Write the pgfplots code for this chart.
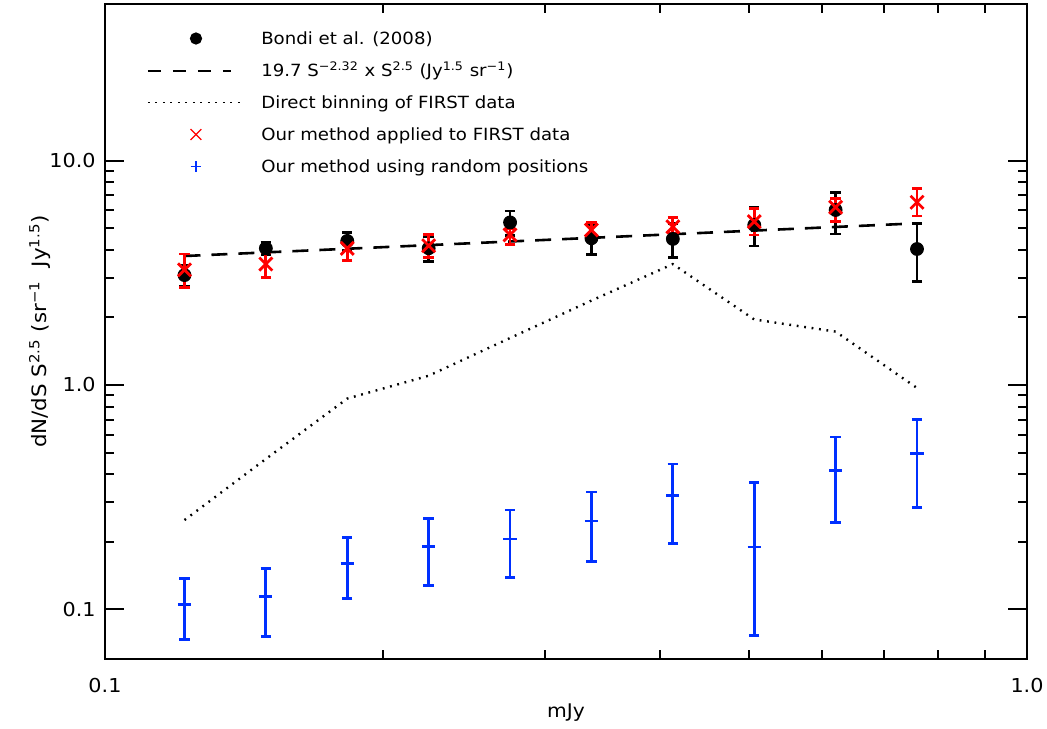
\documentclass[border=0pt]{standalone}
\usepackage{fontspec}
\setmainfont{DejaVu Sans}[FakeStretch=1.08]
\usepackage{pgfplots}
\usepackage{pgfplotstable}
\pgfplotsset{compat=1.18}
\definecolor{oblue}{RGB}{0,48,255}
\definecolor{ored}{RGB}{255,0,0}

\pgfplotstableread{
x y ep em
0.12197 3.09 0.34 0.33
0.14946 4.07 0.27 0.27
0.18315 4.39 0.41 0.40
0.22443 4.07 0.52 0.52
0.27502 5.31 0.66 0.66
0.33701 4.51 0.68 0.68
0.41297 4.48 0.79 0.79
0.50605 5.17 1.00 1.00
0.62011 6.03 1.17 1.32
0.75989 4.04 1.22 1.15
}\bondi

\pgfplotstableread{
x y ep em
0.12197 3.26 0.58 0.53
0.14946 3.46 0.43 0.44
0.18315 4.07 0.24 0.49
0.22443 4.18 0.52 0.47
0.27502 4.67 0.32 0.43
0.33701 4.91 0.40 0.40
0.41297 5.08 0.49 0.33
0.50605 5.35 0.78 0.68
0.62011 6.20 0.60 0.85
0.75989 6.53 1.00 0.86
}\ourfirst

\pgfplotstableread{
x y ep em
0.12197 0.1053 0.0322 0.0318
0.14946 0.1143 0.0381 0.0385
0.18315 0.1603 0.0491 0.0488
0.22443 0.1910 0.0624 0.0631
0.27502 0.2058 0.0714 0.0669
0.33701 0.2475 0.0859 0.0838
0.41297 0.3209 0.1235 0.1240
0.50605 0.1896 0.1787 0.1133
0.62011 0.4166 0.1697 0.1723
0.75989 0.4960 0.2070 0.2110
}\random

\pgfplotstableread{
x y
0.12197 0.250
0.14946 0.468
0.18315 0.870
0.22443 1.100
0.27502 1.620
0.33701 2.380
0.41297 3.460
0.50605 1.960
0.62011 1.730
0.75989 0.970
}\direct

\begin{document}
\begin{tikzpicture}
\begin{axis}[
  name=ax,
  scale only axis,
  width=461bp, height=327.5bp,
  xmode=log, ymode=log,
  xmin=0.1, xmax=1.0, ymin=0.06, ymax=50,
  xtick={0.1,1}, xticklabels={{0.1},{1.0}},
  ytick={0.1,1,10}, yticklabels={{0.1},{1.0},{10.0}},
  /pgf/number format/assume math mode=true,
  tick align=inside,
  major tick length=9.5bp,
  minor tick length=4.5bp,
  axis line style={line width=1bp},
  every tick/.style={black, line width=1bp},
  tick label style={font=\fontsize{9.6bp}{11bp}\selectfont},
  yticklabel style={inner sep=0pt, xshift=-4.5bp},
  xticklabel style={inner sep=0pt, yshift=-9.5bp},
  label style={font=\fontsize{9.4bp}{11bp}\selectfont},
  xlabel={mJy},
  xlabel style={at={(axis description cs:0.5,-0.0824)}, anchor=center},
  ylabel={dN/dS S\textsuperscript{2.5} (sr\textsuperscript{−1}\ \ Jy\textsuperscript{1.5})},
  ylabel style={at={(axis description cs:-0.0705,0.5)}, anchor=center,
    font=\fontsize{9.9bp}{11bp}\selectfont},
  legend cell align=left,
  legend style={draw=none, fill=none, inner sep=0pt, outer sep=0pt,
    at={(axis description cs:0,1)}, anchor=north west,
    xshift=21bp, yshift=-9.25bp, row sep=0pt, column sep=8.2bp,
    nodes={inner sep=0pt, text height=11bp, text depth=5bp,
      font=\fontsize{8.4bp}{10bp}\selectfont}},
]
% Bondi et al. (2008)
\addplot[only marks, mark=*, mark size=3.2bp, black, line width=0.5bp,
  mark options={fill=black},
  error bars/.cd, y dir=both, y explicit, error mark=|,
  error bar style={line width=1.4bp, black},
  error mark options={black, mark size=2.6bp, line width=1.4bp},
  /pgfplots/legend image code/.code={\path[draw=none, fill=none] (0bp,-4bp) rectangle (48bp,4bp);
    \draw[only marks, mark=*, mark size=2.8bp, black, fill=black] plot coordinates {(24bp,0bp)};}
] table[x=x, y=y, y error plus=ep, y error minus=em] {\bondi};
\addlegendentry{Bondi et al. (2008)}

% power law
\addplot[black, line width=1.3bp, dash pattern=on 8bp off 5.5bp,
  legend image code/.code={\path[draw=none, fill=none] (0bp,-4bp) rectangle (48bp,4bp);
    \draw[black, solid, line width=1bp, dash pattern=on 6.5bp off 6bp] (0bp,0bp) -- (41.5bp,0bp);}
] coordinates {(0.12197,3.76) (0.75989,5.26)};
\addlegendentry{19.7 S\textsuperscript{−2.32} x S\textsuperscript{2.5} (Jy\textsuperscript{1.5} sr\textsuperscript{−1})}

% direct binning
\addplot[black, line width=1.2bp, dash pattern=on 0.9bp off 2.85bp,
  legend image code/.code={\path[draw=none, fill=none] (0bp,-4bp) rectangle (48bp,4bp);
    \draw[black, line width=0.9bp, dash pattern=on 0.8bp off 2.95bp] (0bp,0bp) -- (48bp,0bp);}
] table[x=x, y=y] {\direct};
\addlegendentry{Direct binning of FIRST data}

% our method FIRST
\addplot[only marks, mark=x, mark size=4.6bp, ored, line width=1.4bp,
  error bars/.cd, y dir=both, y explicit, error mark=|,
  error bar style={line width=1.4bp, ored},
  error mark options={ored, mark size=2.6bp, line width=1.4bp},
  /pgfplots/legend image code/.code={\path[draw=none, fill=none] (0bp,-4bp) rectangle (48bp,4bp);
    \draw[only marks, mark=x, mark size=3.8bp, ored, line width=0.6bp] plot coordinates {(24bp,0bp)};}
] table[x=x, y=y, y error plus=ep, y error minus=em] {\ourfirst};
\addlegendentry{Our method applied to FIRST data}

% random positions
\addplot[only marks, mark=+, mark size=3.3bp, oblue, line width=1.4bp,
  error bars/.cd, y dir=both, y explicit, error mark=|,
  error bar style={line width=1.4bp, oblue},
  error mark options={oblue, mark size=2.6bp, line width=1.4bp},
  /pgfplots/legend image code/.code={\path[draw=none, fill=none] (0bp,-4bp) rectangle (48bp,4bp);
    \draw[only marks, mark=+, mark size=2.7bp, oblue, line width=0.6bp] plot coordinates {(24bp,0bp)};}
] table[x=x, y=y, y error plus=ep, y error minus=em] {\random};
\addlegendentry{Our method using random positions}
\end{axis}
\pgfresetboundingbox
\path ([shift={(-52.5bp,-35bp)}]ax.south west) rectangle ([shift={(10bp,2bp)}]ax.north east);
\end{tikzpicture}
\end{document}
